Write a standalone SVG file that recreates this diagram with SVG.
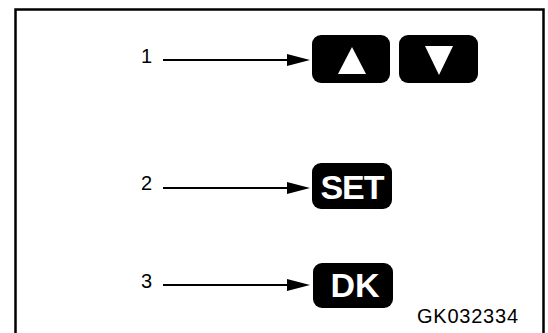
<svg xmlns="http://www.w3.org/2000/svg" width="548" height="333" viewBox="0 0 548 333">
<style>
.frame{fill:none;stroke:#000;stroke-width:2.5}
.btn{fill:#000}
.lbl{font-family:"Liberation Sans",Arial,sans-serif;font-size:20px;fill:#000}
.key{font-family:"Liberation Sans",Arial,sans-serif;font-weight:bold;font-size:34px;fill:#fff;text-anchor:middle}
.conn{stroke:#000;stroke-width:2;fill:none}
.head{fill:#000}
</style>
<rect width="548" height="333" fill="#fff"/>
<path class="frame" d="M15.5,345 V9.5 H543.5 V345"/>
<g id="up-button">
<rect class="btn" x="312" y="35" width="78" height="48" rx="9"/>
<polygon fill="#fff" points="352,47 338,74 366,74"/>
</g>
<g id="down-button">
<rect class="btn" x="399" y="35" width="79" height="48" rx="9"/>
<polygon fill="#fff" points="425,46 453,46 439,75"/>
</g>
<g id="set-button">
<rect class="btn" x="312" y="163" width="80" height="46" rx="9"/>
<text class="key" x="352" y="199" letter-spacing="-1">SET</text>
</g>
<g id="dk-button">
<rect class="btn" x="313" y="263" width="80" height="45" rx="9"/>
<text class="key" x="355" y="297">DK</text>
</g>
<g id="label-1"><text class="lbl" x="141" y="63">1</text></g>
<g id="label-2"><text class="lbl" x="141" y="190">2</text></g>
<g id="label-3"><text class="lbl" x="141" y="288">3</text></g>
<g id="code"><text class="lbl" x="417" y="323" textLength="101">GK032334</text></g>
<g id="connectors">
<line class="conn" x1="163" y1="60" x2="290" y2="60"/>
<polygon class="head" points="310,60 287,54 287,66"/>
<line class="conn" x1="163" y1="188" x2="290" y2="188"/>
<polygon class="head" points="310,188 287,182 287,194"/>
<line class="conn" x1="163" y1="285" x2="290" y2="285"/>
<polygon class="head" points="310,285 287,279 287,291"/>
</g>
</svg>
